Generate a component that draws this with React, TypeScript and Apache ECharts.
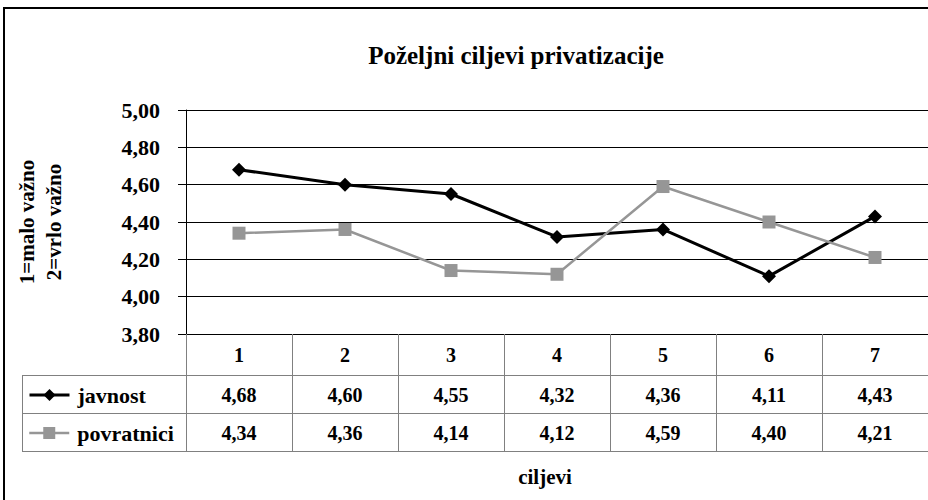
import React, { useEffect, useRef } from 'react';
import * as echarts from 'echarts';

const categories = ['1', '2', '3', '4', '5', '6', '7'];
const seriesNames = ['javnost', 'povratnici'];
const javnost = [4.68, 4.6, 4.55, 4.32, 4.36, 4.11, 4.43];
const povratnici = [4.34, 4.36, 4.14, 4.12, 4.59, 4.4, 4.21];
const yMin = 3.8;
const yMax = 5.0;
const yStep = 0.2;
const titleText = 'Poželjni ciljevi privatizacije';
const yName = '1=malo važno\n2=vrlo važno';
const xName = 'ciljevi';

const fmt = (v: number) => v.toFixed(2).replace('.', ',');
const FONT = "'Liberation Serif', serif";
const txt = (size: number) => ({
  fontFamily: FONT,
  fontSize: size,
  fontWeight: 'bold' as const,
  color: '#000',
});
const GRID_GRAY = '#808080';
const SERIES_COLORS = ['#000000', '#969696'];
const SERIES_WIDTHS = [3, 2.5];

export default function App() {
  const ref = useRef<HTMLDivElement>(null);
  useEffect(() => {
    if (!ref.current) return;
    const chart = echarts.init(ref.current, null, { renderer: 'svg' });
    const valueAxis = (data: string[], offset: number) => ({
      type: 'category',
      data,
      position: 'bottom',
      offset,
      gridIndex: 0,
      axisLine: { show: false },
      axisTick: { show: false },
      splitLine: { show: false },
      axisLabel: { interval: 0, margin: 10, ...txt(20) },
    });
    const legendFor = (i: number, top: number) => ({
      data: [seriesNames[i]],
      left: 28,
      top,
      padding: 0,
      itemWidth: 40,
      itemHeight: 15,
      selectedMode: false,
      lineStyle: { width: SERIES_WIDTHS[i] },
      textStyle: { ...txt(22), padding: [0, 0, 0, 3] },
    });
    chart.setOption({
      animation: false,
      backgroundColor: '#fff',
      grid: { left: 186, right: 0, top: 110, bottom: 166, containLabel: false },
      xAxis: [
        {
          type: 'category',
          data: categories,
          position: 'bottom',
          gridIndex: 0,
          axisLine: { show: true, lineStyle: { color: '#000', width: 1 } },
          axisTick: { show: true, length: 117, lineStyle: { color: GRID_GRAY, width: 1 } },
          splitLine: { show: false },
          axisLabel: { interval: 0, margin: 11, ...txt(20) },
        },
        valueAxis(javnost.map(fmt), 41),
        valueAxis(povratnici.map(fmt), 79),
      ],
      yAxis: {
        type: 'value',
        min: yMin,
        max: yMax,
        interval: yStep,
        axisLine: { show: true, lineStyle: { color: '#000', width: 1 } },
        axisTick: { show: true, length: 8, lineStyle: { color: '#000' } },
        splitLine: { show: true, lineStyle: { color: '#000', width: 1 } },
        axisLabel: { margin: 26, formatter: (v: number) => fmt(v), ...txt(22) },
        name: yName,
        nameLocation: 'middle',
        nameRotate: 90,
        nameGap: 119,
        nameTextStyle: { ...txt(21), lineHeight: 27, align: 'center' },
      },
      legend: [legendFor(0, 384), legendFor(1, 422)],
      series: [
        {
          name: seriesNames[0],
          type: 'line',
          data: javnost,
          xAxisIndex: 0,
          symbol: 'diamond',
          symbolSize: 14,
          itemStyle: { color: SERIES_COLORS[0] },
          lineStyle: { color: SERIES_COLORS[0], width: SERIES_WIDTHS[0] },
        },
        {
          name: seriesNames[1],
          type: 'line',
          data: povratnici,
          xAxisIndex: 0,
          symbol: 'rect',
          symbolSize: 13,
          itemStyle: { color: SERIES_COLORS[1] },
          lineStyle: { color: SERIES_COLORS[1], width: SERIES_WIDTHS[1] },
        },
      ],
      graphic: [
        {
          type: 'rect',
          shape: { x: 4, y: 8, width: 1000, height: 1000 },
          style: { fill: 'none', stroke: '#000', lineWidth: 2 },
          silent: true,
        },
        {
          type: 'text',
          x: 516,
          y: 55,
          style: { text: titleText, textAlign: 'center', textVerticalAlign: 'middle', fontFamily: FONT, fontSize: 25, fontWeight: 'bold', fill: '#000' },
        },
        {
          type: 'text',
          x: 545,
          y: 477,
          style: { text: xName, textAlign: 'center', textVerticalAlign: 'middle', fontFamily: FONT, fontSize: 21, fontWeight: 'bold', fill: '#000' },
        },
        { type: 'line', shape: { x1: 22, y1: 375.5, x2: 928, y2: 375.5 }, style: { stroke: GRID_GRAY, lineWidth: 1 } },
        { type: 'line', shape: { x1: 22, y1: 413.5, x2: 928, y2: 413.5 }, style: { stroke: GRID_GRAY, lineWidth: 1 } },
        { type: 'line', shape: { x1: 22, y1: 451.5, x2: 928, y2: 451.5 }, style: { stroke: GRID_GRAY, lineWidth: 1 } },
        { type: 'line', shape: { x1: 22.5, y1: 375.5, x2: 22.5, y2: 451.5 }, style: { stroke: GRID_GRAY, lineWidth: 1 } },
      ],
    });
    return () => chart.dispose();
  }, []);
  return (
    <div
      ref={ref}
      style={{ position: 'absolute', left: 0, top: 0, width: 928, height: 500, background: '#fff' }}
    />
  );
}
